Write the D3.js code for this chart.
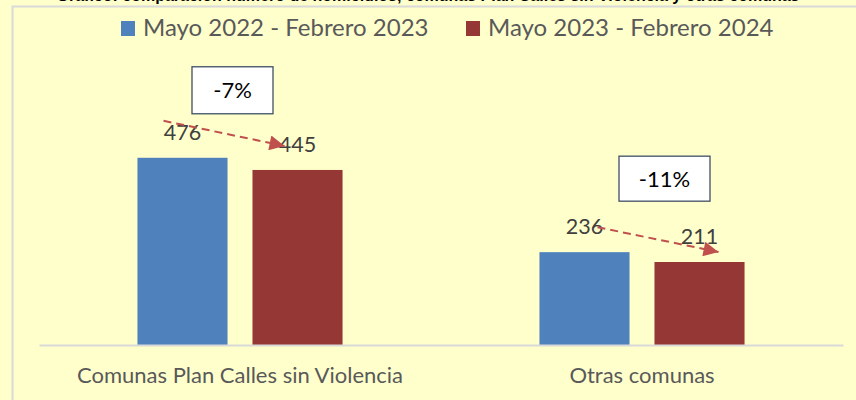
<!DOCTYPE html>
<html>
<head>
<meta charset="utf-8">
<script src="https://cdn.jsdelivr.net/npm/d3@7/dist/d3.min.js"></script>
<style>
  html, body { margin: 0; padding: 0; background: #FFFFCC; }
  svg { display: block; }
</style>
</head>
<body>
<script>
// ---- data ----
const categories = ["Comunas Plan Calles sin Violencia", "Otras comunas"];
const seriesNames = ["Mayo 2022 - Febrero 2023", "Mayo 2023 - Febrero 2024"];
const seriesA = [476, 236];   // Mayo 2022 - Febrero 2023
const seriesB = [445, 211];   // Mayo 2023 - Febrero 2024
const colors = ["#4F81BD", "#953735"];
const titleText = "Gráfico: comparación número de homicidios, comunas Plan Calles sin Violencia y otras comunas";

// ---- layout ----
const W = 856, H = 400;
const font = "Lato, 'Open Sans', sans-serif";
const svg = d3.select("body").append("svg").attr("width", W).attr("height", H);

svg.append("rect").attr("width", W).attr("height", H).attr("fill", "#FFFFCC");

// clipped title at the very top (only its lower edge shows, as in the source)
svg.append("text").attr("x", 428).attr("y", 0.5)
  .attr("text-anchor", "middle").attr("font-family", "'Liberation Sans', Arial, sans-serif")
  .attr("font-weight", "bold").attr("font-size", 16).attr("fill", "#000")
  .text(titleText);

// chart area border (top & left visible)
svg.append("rect").attr("x", 12.5).attr("y", 6.5).attr("width", W + 20).attr("height", H + 20)
  .attr("fill", "#FFFFCC").attr("stroke", "#D9D9D9").attr("stroke-width", 2);

const x0 = d3.scaleBand().domain(categories).range([39, 843]).padding(0);
const x1 = d3.scaleBand().domain(seriesNames).range([0, x0.bandwidth()])
  .paddingInner(0.217).paddingOuter(0.856);
const y = d3.scaleLinear().domain([0, 600]).range([345, 109]);

const rows = categories.map((c, i) => ({cat: c, vals: [seriesA[i], seriesB[i]]}));

// bars
const g = svg.append("g");
rows.forEach(r => {
  r.vals.forEach((v, j) => {
    g.append("rect")
      .attr("x", x0(r.cat) + x1(seriesNames[j]))
      .attr("y", y(v))
      .attr("width", x1.bandwidth())
      .attr("height", y(0) - y(v))
      .attr("fill", colors[j]);
  });
});

// axis baseline
const xAxis = svg.append("g").attr("transform", `translate(0,${y(0)})`)
  .call(d3.axisBottom(x0).tickSize(0).tickPadding(22));
xAxis.select(".domain").attr("stroke", "#D9D9D9").attr("stroke-width", 2);
xAxis.selectAll("text").attr("font-family", font).attr("font-size", 22).attr("fill", "#595959");

// value labels
rows.forEach(r => {
  r.vals.forEach((v, j) => {
    svg.append("text")
      .attr("x", x0(r.cat) + x1(seriesNames[j]) + x1.bandwidth() / 2)
      .attr("y", y(v) - 18)
      .attr("text-anchor", "middle")
      .attr("font-family", font).attr("font-size", 21.5).attr("fill", "#404040")
      .text(v);
  });
});

// arrows (dashed) with offsets relative to bar tops
const arrowOffsets = [
  {sdx: -19, sdy: -37, edx: -13, edy: -24},
  {sdx: 13, sdy: -25, edx: 19, edy: -10}
];
svg.append("defs").append("marker")
  .attr("id", "ah").attr("viewBox", "0 0 10 10").attr("refX", 10).attr("refY", 5)
  .attr("markerUnits", "userSpaceOnUse").attr("markerWidth", 18).attr("markerHeight", 15)
  .attr("orient", "auto")
  .append("path").attr("d", "M0,0 L10,5 L0,10 Z").attr("fill", "#C0504D");

rows.forEach((r, i) => {
  const o = arrowOffsets[i];
  const cA = x0(r.cat) + x1(seriesNames[0]) + x1.bandwidth() / 2;
  const cB = x0(r.cat) + x1(seriesNames[1]) + x1.bandwidth() / 2;
  svg.append("line")
    .attr("x1", cA + o.sdx).attr("y1", y(r.vals[0]) + o.sdy)
    .attr("x2", cB + o.edx).attr("y2", y(r.vals[1]) + o.edy)
    .attr("stroke", "#C0504D").attr("stroke-width", 2)
    .attr("stroke-dasharray", "8,5")
    .attr("marker-end", "url(#ah)");
});

// percent boxes
const boxLayout = [
  {dx: -7.5, dy: -67.5, w: 81, h: 47},
  {dx: 22.5, dy: -73.5, w: 91, h: 45}
];
rows.forEach((r, i) => {
  const b = boxLayout[i];
  const pct = Math.round((r.vals[1] - r.vals[0]) / r.vals[0] * 100);
  const cx = x0(r.cat) + x0.bandwidth() / 2 + b.dx;
  const cy = y(r.vals[0]) + b.dy;
  svg.append("rect")
    .attr("x", cx - b.w / 2).attr("y", cy - b.h / 2)
    .attr("width", b.w).attr("height", b.h)
    .attr("fill", "#FFFFFF").attr("stroke", "#3F4F66").attr("stroke-width", 1.3);
  svg.append("text")
    .attr("x", cx).attr("y", cy + 8)
    .attr("text-anchor", "middle")
    .attr("font-family", font).attr("font-size", 22).attr("fill", "#000")
    .text(pct + "%");
});

// legend
const legendX = [121, 466];
seriesNames.forEach((s, j) => {
  svg.append("rect").attr("x", legendX[j]).attr("y", 21).attr("width", 14).attr("height", 15)
    .attr("fill", colors[j]);
  svg.append("text").attr("x", legendX[j] + 22).attr("y", 36)
    .attr("font-family", font).attr("font-size", 24).attr("fill", "#595959")
    .text(s);
});
</script>
</body>
</html>
